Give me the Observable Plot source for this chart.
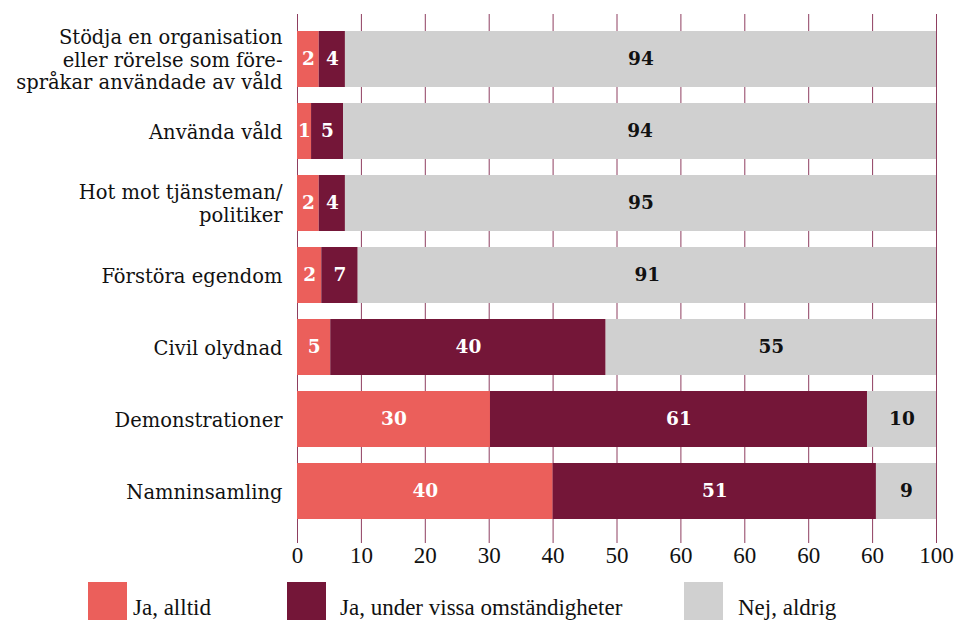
<!DOCTYPE html>
<html>
<head>
<meta charset="utf-8">
<script src="https://cdn.jsdelivr.net/npm/d3@7"></script>
<script src="https://cdn.jsdelivr.net/npm/@observablehq/plot@0.6"></script>
<style>
  html, body { margin: 0; padding: 0; background: #fff; }
  #wrap { position: relative; width: 954px; height: 620px; overflow: hidden; }
  #legend { position: absolute; left: 0; top: 582px; width: 954px; height: 38px; }
  .sw { position: absolute; top: 0; width: 39px; height: 39px; }
  .lt { position: absolute; top: 14px; font-family: "Liberation Serif", serif; font-size: 23px; line-height: 24px; color: #111; white-space: nowrap; }
</style>
</head>
<body>
<div id="wrap"><div id="chart"></div><div id="legend"></div></div>
<script>
const categories = [
  "Stödja en organisation\neller rörelse som före-\nspråkar användade av våld",
  "Använda våld",
  "Hot mot tjänsteman/\npolitiker",
  "Förstöra egendom",
  "Civil olydnad",
  "Demonstrationer",
  "Namninsamling"
];
const series = ["Ja, alltid", "Ja, under vissa omständigheter", "Nej, aldrig"];
const colors = ["#EB5F5B", "#741638", "#D0D0D0"];

// bar lengths as drawn
const alltid = [3.4, 2.2, 3.4, 3.8, 5.2, 30.2, 40.0];
const vissa  = [4.1, 5.0, 4.1, 5.7, 43.1, 59.0, 50.6];
const aldrig = [92.5, 92.8, 92.5, 90.5, 51.7, 10.8, 9.4];
// printed value labels
const alltidLabels = ["2", "1", "2", "2", "5", "30", "40"];
const vissaLabels  = ["4", "5", "4", "7", "40", "61", "51"];
const aldrigLabels = ["94", "94", "95", "91", "55", "10", "9"];

const tickValues = [0, 10, 20, 30, 40, 50, 60, 70, 80, 90, 100];
const tickLabels = ["0", "10", "20", "30", "40", "50", "60", "60", "60", "60", "100"];

const valueSets = [alltid, vissa, aldrig];
const labelSets = [alltidLabels, vissaLabels, aldrigLabels];
const rows = [];
categories.forEach((c, i) => {
  series.forEach((s, j) => {
    rows.push({category: c, series: s, value: valueSets[j][i], label: labelSets[j][i]});
  });
});

const gridColor = "#7a1c44";

const chart = Plot.plot({
  width: 954,
  height: 580,
  marginLeft: 297,
  marginRight: 18,
  marginTop: 14,
  marginBottom: 44,
  style: {fontFamily: "'DejaVu Serif', serif", fontSize: "19px", color: "#111", background: "#fff"},
  x: {domain: [0, 100], label: null},
  y: {domain: categories, padding: 0.222, label: null},
  color: {domain: series, range: colors},
  marks: [
    Plot.gridX(tickValues, {stroke: gridColor, strokeOpacity: 0.85, strokeWidth: 1}),
    Plot.barX(rows, Plot.stackX({x: "value", y: "category", fill: "series", order: series})),
    Plot.text(rows, Plot.stackX({
      x: "value", y: "category", z: "series", order: series,
      text: "label",
      fill: d => d.series === series[2] ? "#111" : "#fff",
      fontWeight: "bold",
      fontSize: 18.5,
      fontFamily: "'DejaVu Serif', serif"
    })),
    Plot.axisX({
      ticks: tickValues,
      tickFormat: d => tickLabels[tickValues.indexOf(d)],
      tickSize: 7,
      stroke: gridColor,
      strokeOpacity: 0.85,
      tickPadding: 3,
      fontSize: 23,
      fontFamily: "'Liberation Serif', serif",
      fill: "#111",
      label: null
    }),
    Plot.axisY({
      tickSize: 0,
      tickPadding: 15,
      fontSize: 19.5,
      lineHeight: 1.15,
      fill: "#111",
      label: null
    })
  ]
});
document.getElementById("chart").appendChild(chart);

const legendLefts = [88, 287, 684];
const legendTextLefts = [133, 340, 738];
const legend = document.getElementById("legend");
series.forEach((s, j) => {
  const sw = document.createElement("div");
  sw.className = "sw";
  sw.style.left = legendLefts[j] + "px";
  sw.style.background = colors[j];
  legend.appendChild(sw);
  const t = document.createElement("div");
  t.className = "lt";
  t.style.left = legendTextLefts[j] + "px";
  t.textContent = s;
  legend.appendChild(t);
});
</script>
</body>
</html>
